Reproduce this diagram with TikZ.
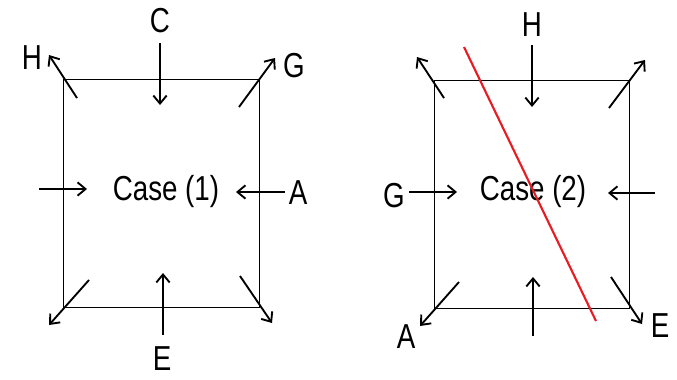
\documentclass[tikz,border=0pt]{standalone}
\usepackage{fontspec}
\setmainfont{Liberation Sans}[FakeStretch=0.80]
\usetikzlibrary{arrows.meta}
\definecolor{cutred}{RGB}{232,28,36}

\begin{document}
\begin{tikzpicture}[x=0.75pt,y=-0.75pt,
  every node/.style={font=\fontsize{26}{30}\selectfont,inner sep=0pt},
  flow/.style={line width=1.4pt,-{Straight Barb[length=6pt,width=10pt]}},
  wall/.style={line width=0.7pt}]
  \useasboundingbox (0,0) rectangle (677,379);
  % Case (1)
  \draw[wall] (63,79) rectangle (259,307);
  \foreach \nm/\xa/\ya/\xb/\yb in {ltl/77/98/49/55, ltop/160/43/160/105, ltr/239/107/275/58,
      lw/39/189/87/189, le/285/192/236/192, lbl/89/280/49/325, lbot/163/335/163/273,
      lbr/240/276/272/323}{
    \coordinate (\nm-s) at (\xa,\ya);
    \coordinate (\nm-e) at (\xb,\yb);
    \draw[flow] (\nm-s) -- (\nm-e);
  }
  \node (case1) at (166,192) {Case (1)};
  \node (lH) at (32,58) {H};
  \node (lC) at (160,21) {C};
  \node (lG) at (294,66) {G};
  \node (lA) at (298,193) {A};
  \node (lE) at (162,359) {E};
  % Case (2)
  \draw[wall] (434,80) rectangle (629,308);
  \foreach \nm/\xa/\ya/\xb/\yb in {rtl/444/98/417/57, rtop/532/45/532/107, rtr/609/108/645/60,
      rw/409/192/457/192, re/655/193/608/193, rbl/459/282/420/326, rbot/533/336/533/277,
      rbr/611/277/642/324}{
    \coordinate (\nm-s) at (\xa,\ya);
    \coordinate (\nm-e) at (\xb,\yb);
    \draw[flow] (\nm-s) -- (\nm-e);
  }
  \node (case2) at (533,192) {Case (2)};
  \node (rH) at (532,25) {H};
  \node (rG) at (394,196) {G};
  \node (rA) at (406,337) {A};
  \node (rE) at (660,326) {E};
  % cut line
  \coordinate (cut-s) at (464,47);
  \coordinate (cut-e) at (596,321);
  \draw[cutred,line width=1.6pt] (cut-s) -- (cut-e);
\end{tikzpicture}
\end{document}
